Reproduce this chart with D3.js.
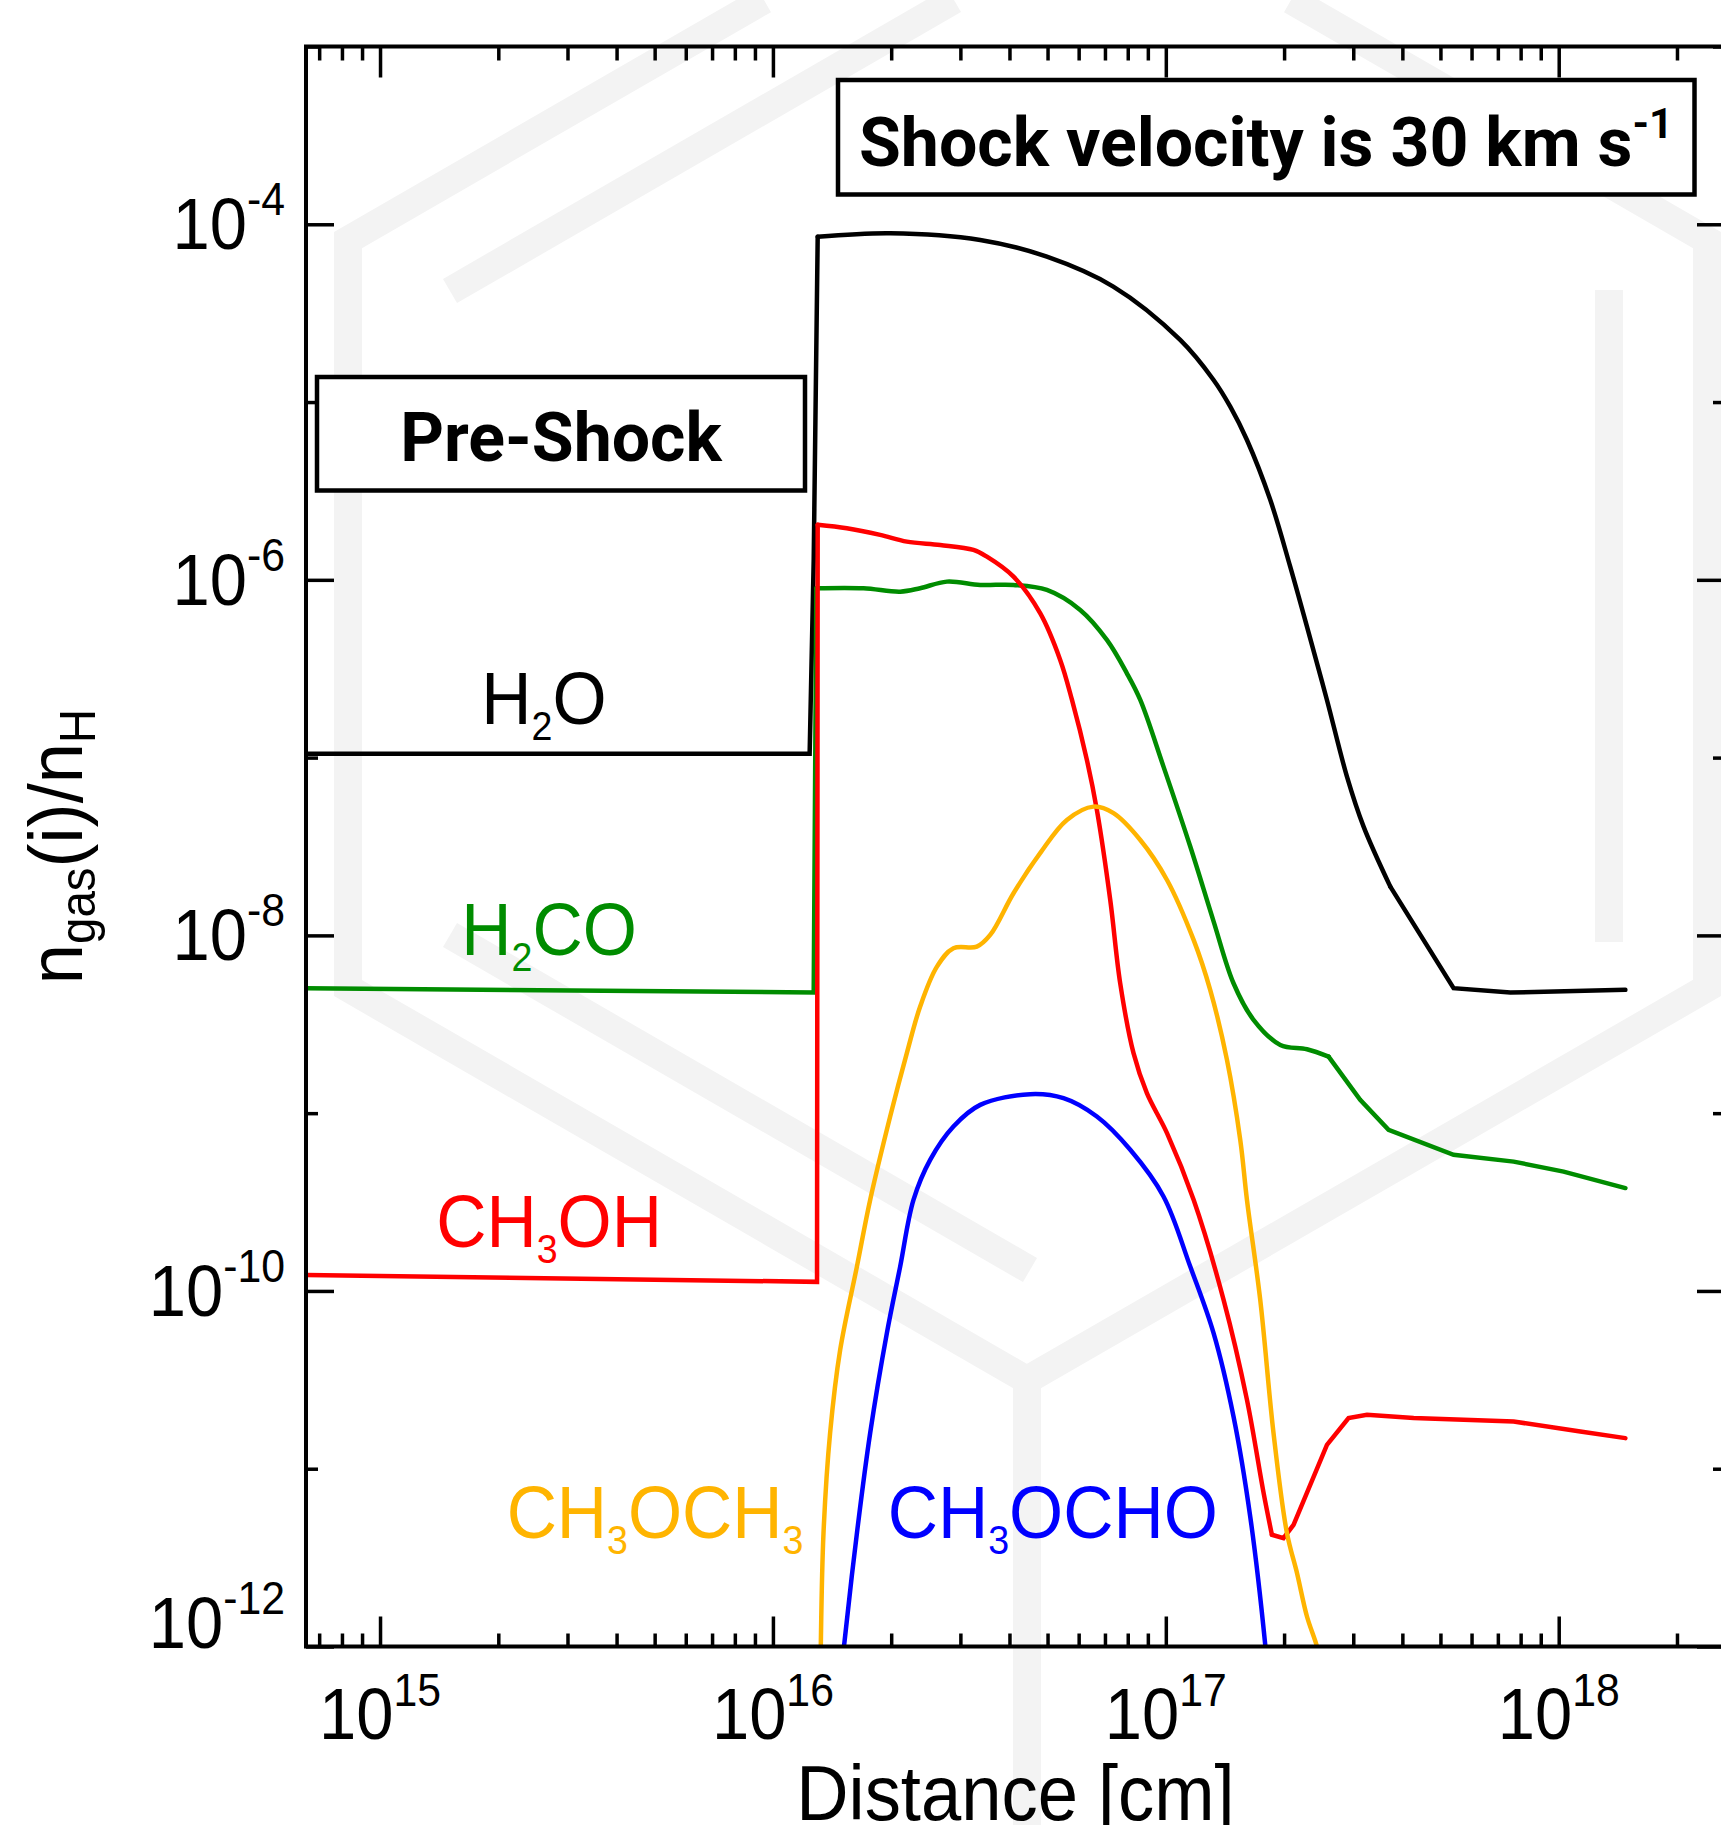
<!DOCTYPE html>
<html>
<head>
<meta charset="utf-8">
<script src="https://cdn.jsdelivr.net/npm/d3@7"></script>
<style>
    html, body { margin: 0; padding: 0; background: #fff; }
    #chart { width: 1721px; height: 1825px; }
</style>
</head>
<body>
<div id="chart"></div>
<script>
// Gas-phase abundances across a 30 km/s shock: [distance (cm), n_gas(i)/n_H]

const species = ['H2O', 'H2CO', 'CH3OH', 'CH3OCH3', 'CH3OCHO'];

const h2o = [
    [6.48e14, 1.05e-7], [1.24e16, 1.05e-7], [1.27e16, 1.3e-6], [1.30e16, 8.5e-5],
    [1.99e16, 8.9e-5], [3.37e16, 8.16e-5], [4.98e16, 6.57e-5], [7.35e16, 4.46e-5],
    [1.088e17, 2.235e-5], [1.323e17, 1.331e-5], [1.459e17, 9.42e-6], [1.609e17, 6.12e-6],
    [1.845e17, 2.81e-6], [2.073e17, 1.186e-6], [2.287e17, 5.45e-7], [2.571e17, 2.11e-7],
    [2.891e17, 7.82e-8], [3.187e17, 4.09e-8], [3.727e17, 1.88e-8], [5.40e17, 5.05e-9],
    [7.53e17, 4.77e-9], [1.478e18, 4.94e-9]
];

const h2co = [
    [6.48e14, 5.04e-9], [1.27e16, 4.77e-9], [1.29e16, 8.97e-7], [1.70e16, 8.97e-7],
    [2.108e16, 8.58e-7], [2.37e16, 8.97e-7], [2.772e16, 9.77e-7], [3.37e16, 9.36e-7],
    [4.096e16, 9.36e-7], [4.98e16, 8.77e-7], [6.055e16, 6.77e-7], [7.08e16, 4.59e-7],
    [7.96e16, 2.98e-7], [8.61e16, 2.11e-7], [9.865e16, 8.9e-8], [1.154e17, 3.16e-8],
    [1.323e17, 1.2e-8], [1.487e17, 5.38e-9], [1.672e17, 3.35e-9], [1.956e17, 2.42e-9],
    [2.287e17, 2.29e-9], [2.596e17, 2.08e-9], [3.124e17, 1.188e-9], [3.689e17, 8.05e-10],
    [5.40e17, 5.83e-10], [7.68e17, 5.34e-10], [1.029e18, 4.69e-10], [1.478e18, 3.79e-10]
];

const ch3oh = [
    [6.48e14, 1.23e-10], [1.295e16, 1.125e-10], [1.30e16, 2.04e-6], [1.542e16, 1.95e-6],
    [1.875e16, 1.789e-6], [2.192e16, 1.64e-6], [2.666e16, 1.571e-6], [3.239e16, 1.473e-6],
    [3.504e16, 1.35e-6], [4.096e16, 1.042e-6], [4.788e16, 6.49e-7], [5.385e16, 3.544e-7],
    [5.77e16, 2.11e-7], [6.297e16, 9.7e-8], [6.676e16, 5.08e-8], [7.22e16, 1.584e-8],
    [7.654e16, 5.38e-9], [8.276e16, 2.175e-9], [8.95e16, 1.296e-9], [1.007e17, 7.72e-10],
    [1.177e17, 3.254e-10], [1.403e17, 8.91e-11], [1.609e17, 2.44e-11], [1.774e17, 7.29e-12],
    [1.862e17, 4.25e-12], [1.993e17, 4.07e-12], [2.114e17, 4.84e-12], [2.571e17, 1.362e-11],
    [2.918e17, 1.926e-11], [3.251e17, 2.01e-11], [4.273e17, 1.926e-11], [7.68e17, 1.843e-11],
    [1.135e18, 1.619e-11], [1.478e18, 1.486e-11]
];

const ch3och3 = [
    [1.32e16, 5e-13], [1.324e16, 1.02e-12], [1.345e16, 4.34e-12], [1.398e16, 1.585e-11],
    [1.483e16, 4.66e-11], [1.636e16, 1.371e-10], [1.768e16, 3.25e-10], [1.988e16, 9.57e-10],
    [2.192e16, 2.175e-9], [2.37e16, 3.98e-9], [2.615e16, 6.67e-9], [2.88e16, 8.47e-9],
    [3.304e16, 8.65e-9], [3.573e16, 1.006e-8], [4.096e16, 1.727e-8], [4.788e16, 2.9e-8],
    [5.6e16, 4.46e-8], [6.545e16, 5.3e-8], [7.36e16, 4.87e-8], [8.61e16, 3.44e-8],
    [1.007e17, 2.05e-8], [1.177e17, 9.43e-9], [1.297e17, 4.94e-9], [1.431e17, 1.994e-9],
    [1.547e17, 7.07e-10], [1.609e17, 3.25e-10], [1.739e17, 8.91e-11], [1.88e17, 1.585e-11],
    [2.034e17, 4.34e-12], [2.157e17, 2.59e-12], [2.287e17, 1.475e-12], [2.425e17, 1e-12],
    [2.5e17, 7.4e-13]
];

const ch3ocho = [
    [1.49e16, 6.4e-13], [1.518e16, 1.02e-12], [1.636e16, 4.34e-12], [1.768e16, 1.585e-11],
    [1.95e16, 5.79e-11], [2.108e16, 1.371e-10], [2.279e16, 3.25e-10], [2.513e16, 5.46e-10],
    [2.88e16, 8.41e-10], [3.37e16, 1.113e-9], [4.517e16, 1.279e-9], [5.49e16, 1.214e-9],
    [6.676e16, 9.57e-10], [8.12e16, 6.22e-10], [9.865e16, 3.4e-10], [1.154e17, 1.371e-10],
    [1.323e17, 5.79e-11], [1.487e17, 1.966e-11], [1.64e17, 5.38e-12], [1.791e17, 1.02e-12],
    [1.823e17, 6.4e-13]
];

const xTickValues = [1e15, 1e16, 1e17, 1e18];
const xTickExponents = ['15', '16', '17', '18'];
const yTickValues = [1e-4, 1e-6, 1e-8, 1e-10, 1e-12];
const yTickExponents = ['-4', '-6', '-8', '-10', '-12'];
const yOddDecades = [1e-3, 1e-5, 1e-7, 1e-9, 1e-11];

const xTitle = 'Distance [cm]';
const shockNote = ['Shock velocity is 30 km s', '-1'];
const preShockNote = 'Pre-Shock';

const SANS = '"Liberation Sans", Arial, Helvetica, sans-serif';
const BOLD = 'Roboto, "Liberation Sans", sans-serif';

const ShockChart = {
    svg: null,
    width: 1721,
    height: 1825,
    plot: { left: 306, top: 46.5, right: 1725, bottom: 1646.5 },
    xScale: null,
    yScale: null,

    // smooth: index range drawn as a smooth curve; outside it segments are straight
    series: {
        H2O:     { data: h2o,     color: '#000000', smooth: [3, 18],  label: [1.81e15, 1.55e-7] },
        H2CO:    { data: h2co,    color: '#008c00', smooth: [2, 21],  label: [1.61e15, 7.8e-9] },
        CH3OH:   { data: ch3oh,   color: '#ff0000', smooth: [2, 24],  label: [1.39e15, 1.77e-10] },
        CH3OCH3: { data: ch3och3, color: '#ffb400', smooth: [0, 32],  label: [2.10e15, 4.06e-12] },
        CH3OCHO: { data: ch3ocho, color: '#0000ff', smooth: [0, 20],  label: [1.96e16, 4.06e-12] }
    },

    init(containerId) {
        const container = d3.select(`#${containerId}`);
        container.selectAll('*').remove();

        this.svg = container.append('svg')
            .attr('width', this.width)
            .attr('height', this.height)
            .style('display', 'block');

        this.svg.append('rect')
            .attr('width', this.width)
            .attr('height', this.height)
            .attr('fill', '#fff');

        this.xScale = d3.scaleLog()
            .domain([6.48e14, 2.65e18])
            .range([this.plot.left, this.plot.right]);

        this.yScale = d3.scaleLog()
            .domain([1e-12, 1e-3])
            .range([this.plot.bottom, this.plot.top]);

        this.drawWatermark();
        this.drawLines();
        this.drawAxes();
        this.drawLabels();
        this.drawNotes();
    },

    // Faint hexagon logo behind the plot
    drawWatermark() {
        const paths = [
            [[764, 0], [348, 240], [348, 988], [1027, 1380], [1707, 988], [1707, 240], [1291, 0]],
            [[1027, 1380], [1027, 1825]],
            [[450, 291], [954, 0]],
            [[1609, 290], [1609, 942]],
            [[450, 935], [1030, 1270]]
        ];
        const g = this.svg.append('g').attr('class', 'watermark');
        paths.forEach(p => {
            g.append('path')
                .attr('d', d3.line()(p))
                .attr('fill', 'none')
                .attr('stroke', '#f3f3f3')
                .attr('stroke-width', 28)
                .attr('stroke-linejoin', 'miter');
        });
    },

    // Text with sub/superscript runs, squeezed horizontally
    richText(parent, x, y, parts, opt) {
        const rot = opt.rotate ? ` rotate(${opt.rotate})` : '';
        const g = parent.append('g')
            .attr('transform', `translate(${x},${y})${rot} scale(${opt.sx || 1},1)`);
        const text = g.append('text')
            .attr('text-anchor', opt.anchor || 'start')
            .attr('font-family', opt.family || SANS)
            .attr('font-size', opt.size)
            .attr('font-weight', opt.weight || 400)
            .attr('fill', opt.color || '#000');
        let cur = 0;
        parts.forEach(p => {
            const shift = p.shift || 0;
            text.append('tspan')
                .attr('dy', shift - cur)
                .attr('font-size', p.size || opt.size)
                .text(p.t);
            cur = shift;
        });
        return g;
    },

    formulaParts(name) {
        return name.split(/(\d+)/).filter(s => s).map(s =>
            /\d/.test(s) ? { t: s, size: 40, shift: 16 } : { t: s });
    },

    // Draw the abundance curves
    drawLines() {
        const p = this.plot;
        this.svg.append('clipPath').attr('id', 'plot-clip')
            .append('rect')
            .attr('x', p.left).attr('y', p.top)
            .attr('width', p.right - p.left).attr('height', p.bottom - p.top);

        const straight = d3.line()
            .x(d => this.xScale(d[0]))
            .y(d => this.yScale(d[1]));

        const smooth = d3.line()
            .x(d => this.xScale(d[0]))
            .y(d => this.yScale(d[1]))
            .curve(d3.curveCatmullRom.alpha(0.5));

        const g = this.svg.append('g').attr('clip-path', 'url(#plot-clip)');
        species.forEach(key => {
            const s = this.series[key];
            const [a, b] = s.smooth;
            const n = s.data.length;
            const pieces = [];
            if (a > 0) pieces.push([s.data.slice(0, a + 1), straight]);
            pieces.push([s.data.slice(a, b + 1), smooth]);
            if (b < n - 1) pieces.push([s.data.slice(b), straight]);

            pieces.forEach(([part, gen]) => {
                g.append('path')
                    .datum(part)
                    .attr('class', `line-${key.toLowerCase()}`)
                    .attr('d', gen)
                    .attr('fill', 'none')
                    .attr('stroke', s.color)
                    .attr('stroke-width', 4.5)
                    .attr('stroke-linejoin', 'miter')
                    .attr('stroke-linecap', 'round');
            });
        });
    },

    // Draw axes, frame and tick labels
    drawAxes() {
        const p = this.plot;
        const x = this.xScale, y = this.yScale;

        const xMinor = [];
        for (let e = 14; e <= 18; e++) {
            for (let m = 2; m <= 9; m++) {
                const v = m * Math.pow(10, e);
                if (v > x.domain()[0] && v < x.domain()[1]) xMinor.push(v);
            }
        }

        const styleTicks = sel => {
            sel.select('.domain').remove();
            sel.selectAll('.tick line').attr('stroke', '#000').attr('stroke-width', 3.5);
        };

        const axes = [
            [d3.axisBottom(x).tickValues(xMinor).tickSize(-13), `translate(0,${p.bottom})`],
            [d3.axisBottom(x).tickValues(xTickValues).tickSize(-30), `translate(0,${p.bottom})`],
            [d3.axisTop(x).tickValues(xMinor).tickSize(-14), `translate(0,${p.top})`],
            [d3.axisTop(x).tickValues(xTickValues).tickSize(-31), `translate(0,${p.top})`],
            [d3.axisLeft(y).tickValues(yTickValues).tickSize(-28), `translate(${p.left},0)`],
            [d3.axisLeft(y).tickValues(yOddDecades).tickSize(-12), `translate(${p.left},0)`],
            [d3.axisRight(y).tickValues(yTickValues).tickSize(-28), `translate(${p.right},0)`],
            [d3.axisRight(y).tickValues(yOddDecades).tickSize(-12), `translate(${p.right},0)`]
        ];
        axes.forEach(([ax, tr]) => {
            this.svg.append('g')
                .attr('transform', tr)
                .call(ax.tickFormat(''))
                .call(styleTicks);
        });

        // Frame
        this.svg.append('rect')
            .attr('x', p.left).attr('y', p.top)
            .attr('width', p.right - p.left).attr('height', p.bottom - p.top)
            .attr('fill', 'none')
            .attr('stroke', '#000')
            .attr('stroke-width', 4);

        // X tick labels
        xTickValues.forEach((v, i) => {
            this.richText(this.svg, x(v), 1739,
                [{ t: '10' }, { t: xTickExponents[i], size: 46, shift: -33 }],
                { size: 72, sx: 0.93, anchor: 'middle' });
        });

        // Y tick labels
        yTickValues.forEach((v, i) => {
            const base = Math.min(y(v) + 25, p.bottom + 1.5);
            this.richText(this.svg, 285, base,
                [{ t: '10' }, { t: yTickExponents[i], size: 46, shift: -34 }],
                { size: 72, sx: 0.93, anchor: 'end' });
        });

        // Axis titles
        this.richText(this.svg, (p.left + p.right) / 2, 1820, [{ t: xTitle }],
            { size: 77, sx: 0.94, anchor: 'middle' });

        this.richText(this.svg, 82, (p.top + p.bottom) / 2,
            [{ t: 'n' }, { t: 'gas', size: 50, shift: 13 }, { t: '(i)/n' },
             { t: 'H', size: 50, shift: 13 }],
            { size: 76, sx: 0.95, anchor: 'middle', rotate: -90 });
    },

    // Species names next to their curves
    drawLabels() {
        species.forEach(key => {
            const s = this.series[key];
            this.richText(this.svg, this.xScale(s.label[0]), this.yScale(s.label[1]),
                this.formulaParts(key),
                { size: 74, sx: 0.94, color: s.color });
        });
    },

    // Boxed notes
    drawNotes() {
        const box = (x0, y0, x1, y1) => {
            this.svg.append('rect')
                .attr('x', x0).attr('y', y0)
                .attr('width', x1 - x0).attr('height', y1 - y0)
                .attr('fill', '#fff')
                .attr('stroke', '#000')
                .attr('stroke-width', 4.5);
        };

        box(838, 80, 1694.5, 194.5);
        this.richText(this.svg, 1266, 166,
            [{ t: shockNote[0] }, { t: shockNote[1], size: 42, shift: -28 }],
            { size: 68, family: BOLD, weight: 700, anchor: 'middle' });

        box(317, 377, 805, 490.5);
        this.richText(this.svg, 561, 461, [{ t: preShockNote }],
            { size: 68, family: BOLD, weight: 700, anchor: 'middle' });
    }
};

ShockChart.init('chart');
</script>
</body>
</html>
